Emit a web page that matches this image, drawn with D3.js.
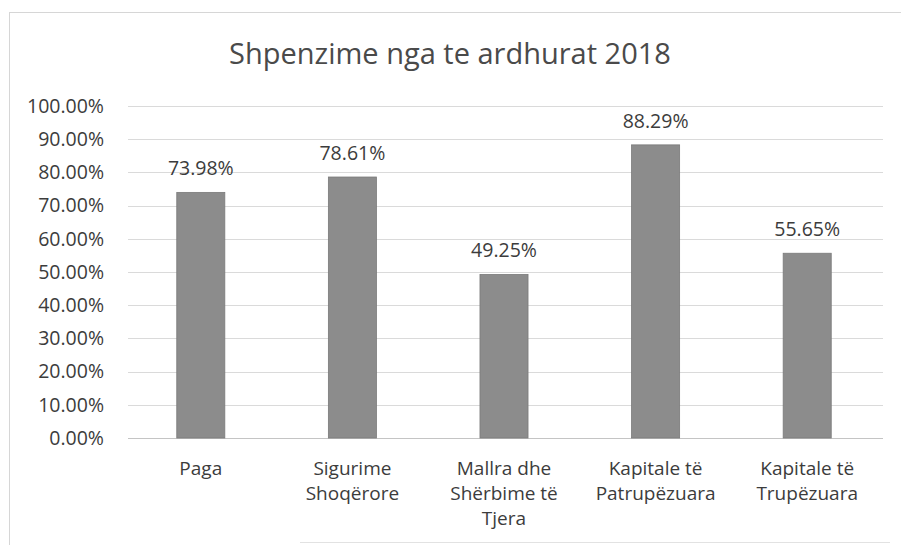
<!DOCTYPE html>
<html>
<head>
<meta charset="utf-8">
<script src="https://cdn.jsdelivr.net/npm/d3@7"></script>
<style>
  body { margin: 0; background: #fff; }
  text { font-family: "Open Sans", "Noto Sans", sans-serif; fill: #3c3c3c; }
</style>
</head>
<body>
<svg id="chart" width="901" height="545"></svg>
<script>
const categories = [
  ["Paga"],
  ["Sigurime", "Shoqërore"],
  ["Mallra dhe", "Shërbime të", "Tjera"],
  ["Kapitale të", "Patrupëzuara"],
  ["Kapitale të", "Trupëzuara"]
];
const values = [73.98, 78.61, 49.25, 88.29, 55.65];
const yTicks = [0, 10, 20, 30, 40, 50, 60, 70, 80, 90, 100];
const title = "Shpenzime nga te ardhurat 2018";

const width = 901, height = 545;
const plot = { left: 125, right: 883, top: 106, bottom: 438 };

const svg = d3.select("#chart");

// faint chart frame (top and left edges visible, partial bottom edge)
const frame = svg.append("g")
  .attr("stroke", "#d6d6d6")
  .attr("stroke-width", 1);
frame.append("line").attr("x1", 9).attr("x2", 901).attr("y1", 12.5).attr("y2", 12.5);
frame.append("line").attr("x1", 9.5).attr("x2", 9.5).attr("y1", 12).attr("y2", 545);
frame.append("line").attr("x1", 300).attr("x2", 890).attr("y1", 542.5).attr("y2", 542.5)
  .attr("stroke", "#e2e2e2");

svg.append("text")
  .attr("x", 450).attr("y", 64)
  .attr("text-anchor", "middle")
  .style("font-size", "29px")
  .style("fill", "#4a4a4a")
  .text(title);

const x = d3.scaleBand()
  .domain(d3.range(categories.length))
  .range([plot.left, plot.right])
  .paddingInner(0.683)
  .paddingOuter(0.3415);

const y = d3.scaleLinear()
  .domain([0, 100])
  .range([plot.bottom, plot.top]);

// gridlines
svg.append("g")
  .selectAll("line")
  .data(yTicks)
  .join("line")
  .attr("x1", 128).attr("x2", plot.right)
  .attr("y1", d => Math.round(y(d)) + 0.5)
  .attr("y2", d => Math.round(y(d)) + 0.5)
  .attr("stroke", d => d === 0 ? "#c4c4c4" : "#dadada")
  .attr("stroke-width", 1);

// y axis labels
const yAxis = d3.axisLeft(y)
  .tickValues(yTicks)
  .tickSize(0)
  .tickPadding(0)
  .tickFormat(d => d.toFixed(2) + "%");

svg.append("g")
  .attr("transform", `translate(104,0)`)
  .call(yAxis)
  .call(g => g.select(".domain").remove())
  .selectAll("text")
  .style("font-size", "19.5px")
  .style("font-family", "\"Open Sans\", \"Noto Sans\", sans-serif")
  .attr("fill", "#3c3c3c");

// bars
svg.append("g")
  .selectAll("rect")
  .data(values)
  .join("rect")
  .attr("x", (d, i) => x(i))
  .attr("y", d => y(d))
  .attr("width", x.bandwidth())
  .attr("height", d => y(0) - y(d))
  .attr("fill", "#8c8c8c")
  .attr("stroke", "#7a7a7a")
  .attr("stroke-width", 0.8);

// value labels
svg.append("g")
  .selectAll("text")
  .data(values)
  .join("text")
  .attr("x", (d, i) => x(i) + x.bandwidth() / 2)
  .attr("y", d => y(d) - 17)
  .attr("text-anchor", "middle")
  .style("font-size", "19.5px")
  .text(d => d.toFixed(2) + "%");

// category labels
const cat = svg.append("g")
  .selectAll("text")
  .data(categories)
  .join("text")
  .attr("x", (d, i) => x(i) + x.bandwidth() / 2)
  .attr("y", 475)
  .attr("text-anchor", "middle")
  .style("font-size", "19px");

cat.selectAll("tspan")
  .data(d => d)
  .join("tspan")
  .attr("x", function () { return d3.select(this.parentNode).attr("x"); })
  .attr("dy", (d, i) => i === 0 ? 0 : 25)
  .text(d => d);
</script>
</body>
</html>
